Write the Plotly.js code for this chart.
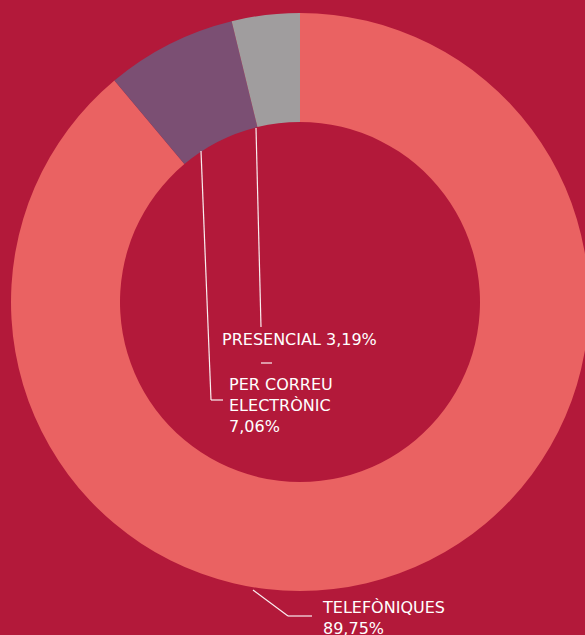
<!DOCTYPE html>
<html>
<head>
<meta charset="utf-8">
<script src="https://cdn.plot.ly/plotly-3.0.1.min.js"></script>
<style>
html,body{margin:0;padding:0;overflow:hidden;background:#B3193A;}
#chart{width:600px;height:635px;}
</style>
</head>
<body>
<div id="chart"></div>
<script>
// Data (slice shares as drawn, clockwise from 12 o'clock)
const categories = ['TELEFÒNIQUES', 'PER CORREU ELECTRÒNIC', 'PRESENCIAL'];
const sliceValues = [88.9, 7.3, 3.8];
const sliceColors = ['#EA6262', '#7B4F73', '#A09D9E'];
const labelLines = [['TELEFÒNIQUES', '89,75%'], ['PER CORREU', 'ELECTRÒNIC', '7,06%'], ['PRESENCIAL 3,19%']];

const W = 600, H = 635;
const cx = 300, cy = 302, R = 289, rIn = 180;
const px = x => x / W;
const py = y => 1 - y / H;

const trace = {
  type: 'pie',
  values: sliceValues,
  labels: categories,
  marker: {colors: sliceColors, line: {width: 0}},
  hole: rIn / R,
  sort: false,
  direction: 'clockwise',
  rotation: 0,
  textinfo: 'none',
  hoverinfo: 'none',
  showlegend: false,
  domain: {x: [px(cx - R), px(cx + R)], y: [py(cy + R), py(cy - R)]}
};

const lineStyle = {color: 'rgba(255,255,255,0.92)', width: 1.2};
function seg(x0, y0, x1, y1) {
  return {type: 'line', xref: 'paper', yref: 'paper', x0: px(x0), y0: py(y0), x1: px(x1), y1: py(y1), line: lineStyle};
}
const shapes = [
  seg(256, 128, 261, 327),
  seg(261, 363, 272, 363),
  seg(201, 151, 211, 400),
  seg(211, 400, 223, 400),
  seg(253, 590, 288, 616),
  seg(288, 616, 312, 616)
];

const font = {family: 'DejaVu Sans, sans-serif', size: 16, color: '#FFFFFF'};
function ann(lines, x, y) {
  return {xref: 'paper', yref: 'paper', x: px(x), y: py(y), xanchor: 'left', yanchor: 'middle',
    text: lines.join('<br>'), showarrow: false, align: 'left', font: font};
}
const annotations = [
  ann(labelLines[2], 220, 339),
  ann(labelLines[1], 227, 405),
  ann(labelLines[0], 320, 618)
];

const layout = {
  width: W, height: H,
  margin: {l: 0, r: 0, t: 0, b: 0, pad: 0},
  paper_bgcolor: '#B3193A',
  plot_bgcolor: '#B3193A',
  shapes: shapes,
  annotations: annotations
};

Plotly.newPlot('chart', [trace], layout, {displayModeBar: false, staticPlot: true});
</script>
</body>
</html>
